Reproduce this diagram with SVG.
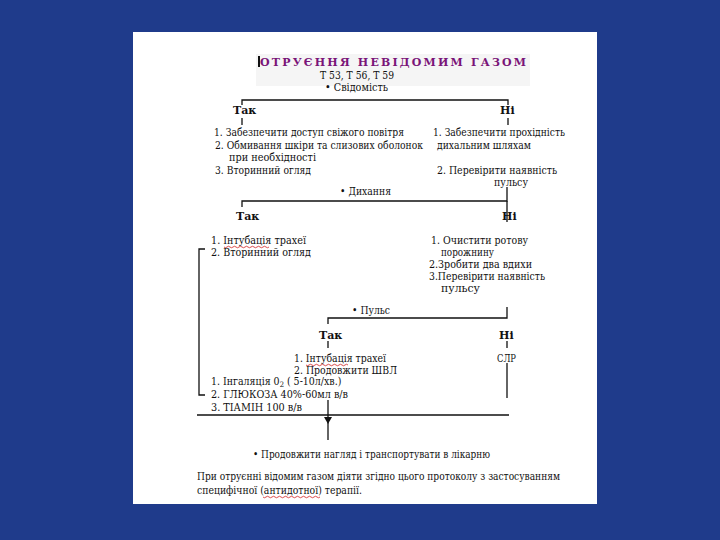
<svg xmlns="http://www.w3.org/2000/svg" width="720" height="540" viewBox="0 0 720 540">
<style>
.t{font-family:"DejaVu Serif Condensed","DejaVu Serif","Liberation Serif",serif;font-size:10.5px;fill:#111}
.b{font-family:"DejaVu Serif","Liberation Serif",serif;font-size:11px;font-weight:bold;fill:#111}
.ttl{font-family:"DejaVu Serif","Liberation Serif",serif;font-size:11px;font-weight:bold;fill:#7a1478}
.ln{stroke:#111;stroke-width:1.3;fill:none}
.sq{stroke:#d02020;stroke-width:0.8;fill:none}
</style>
<rect x="0" y="0" width="720" height="540" fill="#1f3b8b"/>
<rect x="133" y="32" width="464" height="472" fill="#ffffff"/>
<rect x="256" y="54" width="274" height="32" fill="#f5f5f5"/>
<g id="title">
<rect x="258" y="56" width="2" height="11" fill="#111"/>
<text class="ttl" x="260" y="66" textLength="266" lengthAdjust="spacing">ОТРУЄННЯ НЕВІДОМИМ ГАЗОМ</text>
<text class="t" x="320" y="79" textLength="74" lengthAdjust="spacingAndGlyphs">Т 53, Т 56, Т 59</text>
<text class="t" x="325" y="91" textLength="63" lengthAdjust="spacingAndGlyphs">• Свідомість</text>
</g>
<g id="connectors">
<path class="ln" d="M242,105 V100 H508 V105"/>
<path class="ln" d="M242,118 V125 M508,118 V125"/>
<path class="ln" d="M507,187 V201 H242 V207"/>
<path class="ln" d="M507,201 V222"/>
<path class="ln" d="M205,249 H199 V395 H205"/>
<path class="ln" d="M507,307 V318 H328 V324"/>
<path class="ln" d="M328,341 V348 M507,341 V348"/>
<path class="ln" d="M507,363 V398"/>
<path class="ln" d="M197,415 H509"/>
<path class="ln" d="M328,400 V440"/>
<path d="M324,417 L332,417 L328,424 Z" fill="#111"/>
</g>
<g id="svidomist-tak">
<text class="b" x="233" y="114">Так</text>
<text class="t" x="214" y="136" textLength="190" lengthAdjust="spacingAndGlyphs">1. Забезпечити доступ свіжого повітря</text>
<text class="t" x="215" y="149" textLength="208" lengthAdjust="spacingAndGlyphs">2. Обмивання шкіри та слизових оболонок</text>
<text class="t" x="229" y="161" textLength="87" lengthAdjust="spacingAndGlyphs">при необхідності</text>
<text class="t" x="215" y="174" textLength="96" lengthAdjust="spacingAndGlyphs">3. Вторинний огляд</text>
</g>
<g id="svidomist-ni">
<text class="b" x="500" y="114">Ні</text>
<text class="t" x="433" y="136" textLength="132" lengthAdjust="spacingAndGlyphs">1. Забезпечити прохідність</text>
<text class="t" x="437" y="149" textLength="94" lengthAdjust="spacingAndGlyphs">дихальним шляхам</text>
<text class="t" x="437" y="174" textLength="120" lengthAdjust="spacingAndGlyphs">2. Перевірити наявність</text>
<text class="t" x="494" y="186" textLength="34" lengthAdjust="spacingAndGlyphs">пульсу</text>
</g>
<g id="dykhannia">
<text class="t" x="340" y="195" textLength="51" lengthAdjust="spacingAndGlyphs">• Дихання</text>
</g>
<g id="dykhannia-tak">
<text class="b" x="236" y="220">Так</text>
<text class="t" x="211" y="244" textLength="95" lengthAdjust="spacingAndGlyphs">1. Інтубація трахеї</text>
<path class="sq" d="M224,247 q1.5,1.5 3,0 t3,0 t3,0 t3,0 t3,0 t3,0 t3,0 t3,0 t3,0 t3,0 t3,0 t3,0 t3,0 t3,0 t3,0"/>
<text class="t" x="211" y="256" textLength="100" lengthAdjust="spacingAndGlyphs">2. Вторинний огляд</text>
</g>
<g id="dykhannia-ni">
<text class="b" x="502" y="220">Ні</text>
<text class="t" x="431" y="244" textLength="97" lengthAdjust="spacingAndGlyphs">1. Очистити ротову</text>
<text class="t" x="441" y="256" textLength="53" lengthAdjust="spacingAndGlyphs">порожнину</text>
<text class="t" x="429" y="268" textLength="103" lengthAdjust="spacingAndGlyphs">2.Зробити два вдихи</text>
<text class="t" x="429" y="280" textLength="116" lengthAdjust="spacingAndGlyphs">3.Перевірити наявність</text>
<text class="t" x="441" y="292" textLength="39" lengthAdjust="spacingAndGlyphs">пульсу</text>
</g>
<g id="puls">
<text class="t" x="352" y="314" textLength="38" lengthAdjust="spacingAndGlyphs">• Пульс</text>
</g>
<g id="puls-tak">
<text class="b" x="319" y="339">Так</text>
<text class="t" x="294" y="362" textLength="92" lengthAdjust="spacingAndGlyphs">1. Інтубація трахеї</text>
<path class="sq" d="M306,365 q1.5,1.5 3,0 t3,0 t3,0 t3,0 t3,0 t3,0 t3,0 t3,0 t3,0 t3,0 t3,0 t3,0 t3,0 t3,0"/>
<text class="t" x="294" y="374" textLength="103" lengthAdjust="spacingAndGlyphs">2. Продовжити ШВЛ</text>
</g>
<g id="puls-ni">
<text class="b" x="499" y="339">Ні</text>
<text class="t" x="497" y="362" textLength="19" lengthAdjust="spacingAndGlyphs">СЛР</text>
</g>
<g id="left-list">
<text class="t" x="211" y="385">1. Інгаляція 0<tspan font-size="7.5" dy="1.5">2</tspan><tspan dy="-1.5"> ( 5-10л/хв.)</tspan></text>
<text class="t" x="211" y="398" textLength="137" lengthAdjust="spacingAndGlyphs">2. ГЛЮКОЗА 40%-60мл в/в</text>
<text class="t" x="211" y="411" textLength="91" lengthAdjust="spacingAndGlyphs">3. ТІАМІН 100 в/в</text>
</g>
<g id="final">
<text class="t" x="253" y="458" textLength="237" lengthAdjust="spacingAndGlyphs">• Продовжити нагляд і транспортувати в лікарню</text>
</g>
<g id="note">
<text class="t" x="197" y="480" textLength="363" lengthAdjust="spacingAndGlyphs">При отруєнні відомим газом діяти згідно цього протоколу з застосуванням</text>
<text class="t" x="197" y="494" textLength="165" lengthAdjust="spacingAndGlyphs">специфічної (антидотної) терапії.</text>
<path class="sq" d="M263,497 q1.5,1.5 3,0 t3,0 t3,0 t3,0 t3,0 t3,0 t3,0 t3,0 t3,0 t3,0 t3,0 t3,0 t3,0 t3,0 t3,0 t3,0 t3,0 t3,0 t3,0"/>
</g>
</svg>
